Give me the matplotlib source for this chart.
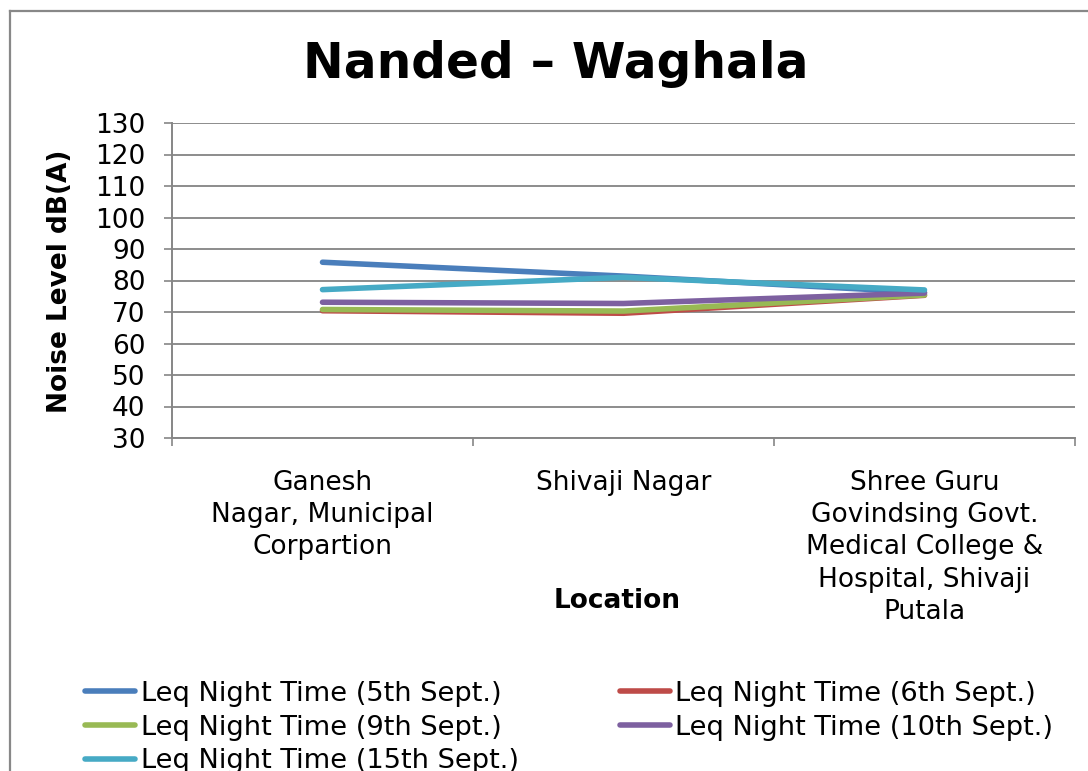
import matplotlib.pyplot as plt
from matplotlib.lines import Line2D

locations = ["Ganesh\nNagar, Municipal\nCorpartion",
             "Shivaji Nagar",
             "Shree Guru\nGovindsing Govt.\nMedical College &\nHospital, Shivaji\nPutala"]
series_names = ["Leq Night Time (5th Sept.)", "Leq Night Time (6th Sept.)",
                "Leq Night Time (9th Sept.)", "Leq Night Time (10th Sept.)",
                "Leq Night Time (15th Sept.)"]
sept5 = [85.8, 81.4, 76.2]
sept6 = [70.4, 69.6, 75.3]
sept9 = [70.8, 70.3, 75.4]
sept10 = [73.1, 72.7, 76.0]
sept15 = [77.1, 81.0, 77.0]
colors = ["#4A7EBB", "#BE4B48", "#98B954", "#7D60A0", "#46AAC5"]
yticks = [30, 40, 50, 60, 70, 80, 90, 100, 110, 120, 130]

fig = plt.figure(figsize=(10.88, 7.71), dpi=100)
ax = fig.add_axes([172 / 1088, 1 - 438 / 771, (1075 - 172) / 1088, (438 - 123) / 771])

x = [0, 1, 2]
handles = []
for vals, name, c in zip([sept5, sept6, sept9, sept10, sept15], series_names, colors):
    h, = ax.plot(x, vals, color=c, lw=4, solid_capstyle="round", label=name)
    handles.append(h)

ax.set_xlim(-0.5, 2.5)
ax.set_ylim(30, 130)
ax.set_yticks(yticks)
ax.tick_params(axis="y", labelsize=19, length=6, width=1.2, color="#868686", pad=13)
ax.set_xticks([-0.5, 0.5, 1.5, 2.5])
ax.set_xticklabels([])
ax.tick_params(axis="x", which="major", length=6, width=1.2, color="#868686")
ax.set_xticks(x, minor=True)
ax.set_xticklabels(locations, minor=True, fontsize=19, linespacing=1.31)
ax.tick_params(axis="x", which="minor", length=0, pad=23)
ax.yaxis.grid(True, color="#8c8c8c", lw=1.4)
ax.set_axisbelow(True)
for s in ["top", "right"]:
    ax.spines[s].set_visible(False)
for s in ["left", "bottom"]:
    ax.spines[s].set_color("#868686")
    ax.spines[s].set_linewidth(1.4)

fig.text(556 / 1088, 1 - 64 / 771, "Nanded – Waghala", fontsize=35, fontweight="bold",
         ha="center", va="center")
fig.text(60 / 1088, 1 - 281 / 771, "Noise Level dB(A)", fontsize=19, fontweight="bold",
         rotation=90, ha="center", va="center")
fig.text(617 / 1088, 1 - 601 / 771, "Location", fontsize=19, fontweight="bold",
         ha="center", va="center")

# legend is filled column-wise, so reorder to get row-wise order
order = [0, 2, 4, 1, 3]
fig.legend([handles[i] for i in order], [series_names[i] for i in order],
           loc="upper left", bbox_to_anchor=(85 / 1088, 1 - 681 / 771), ncol=2,
           frameon=False, fontsize=19.6, borderpad=0, borderaxespad=0,
           handlelength=1.85, handletextpad=0.2, columnspacing=3.7, labelspacing=0.28)

# outer chart border (cropped at right and bottom)
fig.add_artist(Line2D([10 / 1088, 10 / 1088], [0, 1 - 11 / 771], color="#888888", lw=1.6))
fig.add_artist(Line2D([10 / 1088, 1], [1 - 11 / 771, 1 - 11 / 771], color="#888888", lw=1.6))

fig.savefig("out.png", dpi=100)
